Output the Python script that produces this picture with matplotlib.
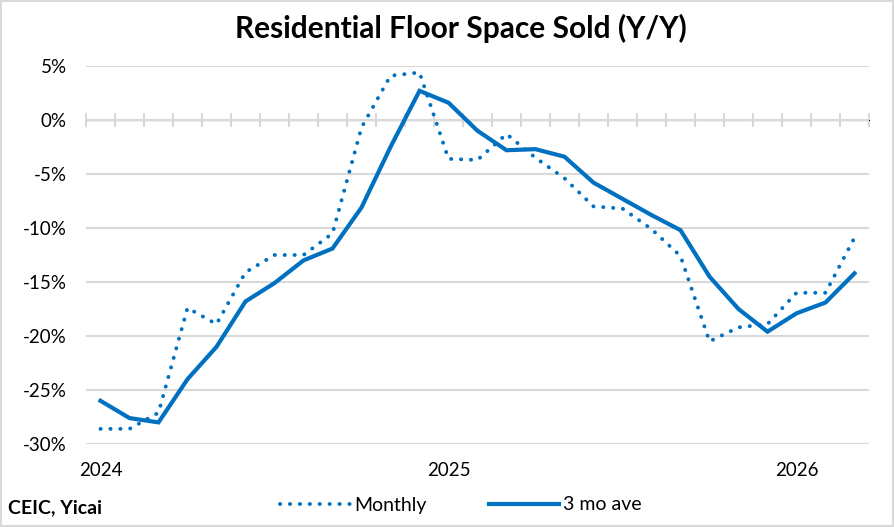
import numpy as np
import matplotlib
matplotlib.use("Agg")
import matplotlib.pyplot as plt
from matplotlib.patches import Rectangle

plt.rcParams['font.family'] = ['Lato', 'DejaVu Sans']

# months from Jan 2024 to Mar 2026
year_labels = ['2024', '2025', '2026']
monthly = [-28.6, -28.6, -27.1, -17.4, -18.9, -14.1, -12.5, -12.5, -10.5,
           -0.7, 4.1, 4.4, -3.6, -3.7, -1.3, -3.5, -5.4, -8.0, -8.2,
           -10.1, -12.6, -20.5, -19.2, -18.9, -16.0, -16.0, -10.9]
ave_3mo = [-26.0, -27.6, -28.0, -24.0, -21.0, -16.8, -15.1, -13.0, -11.9,
           -8.1, -2.5, 2.7, 1.6, -1.0, -2.8, -2.7, -3.4, -5.8, -7.3,
           -8.8, -10.2, -14.5, -17.5, -19.6, -17.9, -16.9, -14.2]

blue = '#0070C0'
grid_c = '#D9D9D9'
n = len(monthly)
x = np.arange(n)
ymin, ymax = -30, 5

fig = plt.figure(figsize=(8.95, 5.27), dpi=100)
ax = fig.add_axes([86/895, 1-444/527, 783/895, 378/527])

l1, = ax.plot(x, monthly, color=blue, lw=2.8, linestyle=(0, (0.05, 2.5)),
              dash_capstyle='round', solid_capstyle='round')
l2, = ax.plot(x, ave_3mo, color=blue, lw=3.0, solid_joinstyle='miter')

ax.set_xlim(-0.5, n - 0.5)
ax.set_ylim(ymin, ymax)
ax.set_yticks(np.arange(ymin, ymax + 1, 5))
ax.set_yticklabels([f'{v}%' for v in range(ymin, ymax + 1, 5)])
ax.yaxis.grid(True, color=grid_c, lw=1.5)
ax.set_axisbelow(True)
for s in ax.spines.values():
    s.set_visible(False)
ax.tick_params(axis='y', length=0, pad=14, labelsize=13.5)

ax.set_xticks([0, 12, 24])
ax.set_xticklabels(year_labels)
ax.tick_params(axis='x', length=0, pad=13, labelsize=13.5)

# category axis crossing at 0%
sec = ax.secondary_xaxis((0 - ymin) / (ymax - ymin))
sec.set_xticks(np.arange(-0.5, n, 1.0))
sec.set_xticklabels([])
sec.tick_params(axis='x', direction='inout', length=10, width=1.5, color=grid_c)
sec.spines['bottom'].set_color(grid_c)
sec.spines['bottom'].set_linewidth(1.5)

fig.text(461/895, 1 - 28/527, 'Residential Floor Space Sold (Y/Y)', ha='center', va='center',
         fontsize=21.5, fontweight='bold')
fig.text(8/895, 1 - 508/527, 'CEIC, Yicai', ha='left', va='center', fontsize=14, fontweight='bold')

fig.legend([l1, l2], ['Monthly', '3 mo ave'], loc='center', bbox_to_anchor=(461/895, 1 - 505/527),
           ncol=2, frameon=False, fontsize=14, handlelength=3.6, columnspacing=3.2, handletextpad=0.2)

fig.patches.append(Rectangle((0.001, 0.001), 0.997, 0.997, transform=fig.transFigure,
                             fill=False, edgecolor=grid_c, lw=1.5))

fig.savefig('out.png', dpi=100)
